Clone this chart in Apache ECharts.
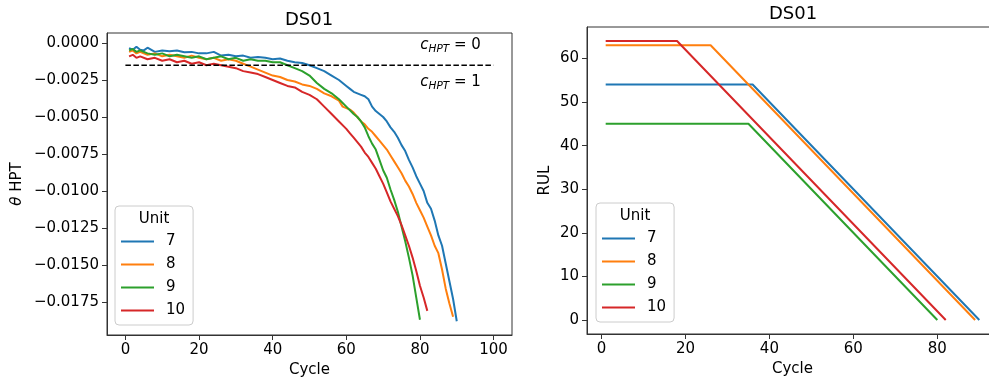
<!DOCTYPE html>
<html><head><meta charset="utf-8">
<script src="https://cdn.jsdelivr.net/npm/echarts@6/dist/echarts.min.js"></script>
<style>html,body{margin:0;padding:0;background:#fff}#c{width:989px;height:377px}</style>
</head><body><div id="c"></div>
<script>
const units = ['7', '8', '9', '10'];
const colors = ['#1f77b4', '#ff7f0e', '#2ca02c', '#d62728'];

// theta HPT per cycle (left panel)
const theta7 = [[1,-0.00035],[2,-0.00045],[3,-0.00025],[4,-0.00045],[5,-0.0005],[6,-0.00032],[8,-0.0006],[10,-0.0005],[12,-0.00055],[14,-0.0005],[16,-0.00062],[18,-0.0006],[20,-0.0007],[22,-0.0007],[24,-0.0006],[26,-0.00085],[28,-0.0008],[30,-0.0009],[32,-0.00085],[34,-0.001],[36,-0.00095],[38,-0.001],[40,-0.0011],[42,-0.00105],[44,-0.0012],[46,-0.0013],[48,-0.00135],[50,-0.0015],[52,-0.0017],[54,-0.0019],[56,-0.0022],[58,-0.0025],[60,-0.0029],[61,-0.0031],[62,-0.0033],[63,-0.0034],[64,-0.0035],[65,-0.0036],[66,-0.0038],[67,-0.0043],[68,-0.0046],[69,-0.0048],[70,-0.005],[71,-0.0053],[72,-0.0057],[73,-0.006],[74,-0.0064],[75,-0.0069],[76,-0.0073],[77,-0.0079],[78,-0.0084],[79,-0.009],[80,-0.0095],[81,-0.01],[82,-0.0108],[83,-0.0112],[84,-0.012],[85,-0.013],[86,-0.0137],[87,-0.0149],[88,-0.0161],[89,-0.0173],[90,-0.0188]];
const theta8 = [[1,-0.0006],[2,-0.0005],[3,-0.0007],[4,-0.0006],[6,-0.0008],[8,-0.0007],[10,-0.0009],[12,-0.0008],[14,-0.0009],[16,-0.001],[18,-0.00085],[20,-0.001],[22,-0.0011],[24,-0.001],[26,-0.0012],[28,-0.0011],[30,-0.0012],[32,-0.0014],[34,-0.0016],[36,-0.0018],[38,-0.002],[40,-0.0022],[42,-0.0023],[44,-0.0025],[46,-0.0026],[48,-0.0028],[50,-0.0029],[52,-0.0031],[54,-0.0034],[56,-0.0036],[58,-0.0039],[59,-0.0043],[60,-0.0044],[61,-0.0045],[62,-0.0047],[63,-0.005],[64,-0.0053],[65,-0.0055],[66,-0.0058],[67,-0.006],[68,-0.0063],[69,-0.0066],[70,-0.0069],[71,-0.0072],[72,-0.0076],[73,-0.008],[74,-0.0084],[75,-0.0088],[76,-0.0093],[77,-0.0097],[78,-0.0102],[79,-0.0108],[80,-0.0113],[81,-0.0118],[82,-0.0124],[83,-0.013],[84,-0.0137],[85,-0.0142],[86,-0.0153],[87,-0.0166],[88,-0.0176],[89,-0.0185]];
const theta9 = [[1,-0.0005],[2,-0.0004],[3,-0.0006],[4,-0.0005],[6,-0.0007],[8,-0.0008],[10,-0.0007],[12,-0.0009],[14,-0.0008],[16,-0.0009],[18,-0.001],[20,-0.0009],[22,-0.0011],[24,-0.001],[26,-0.0009],[28,-0.0011],[30,-0.001],[32,-0.0012],[34,-0.0011],[36,-0.0012],[38,-0.0012],[40,-0.0013],[42,-0.0013],[44,-0.0015],[46,-0.0017],[48,-0.0019],[50,-0.0022],[52,-0.0027],[54,-0.0031],[56,-0.0034],[58,-0.0038],[60,-0.0043],[62,-0.0048],[63,-0.005],[64,-0.0053],[65,-0.0057],[66,-0.0063],[67,-0.0068],[68,-0.0072],[69,-0.0079],[70,-0.0086],[71,-0.0091],[72,-0.0099],[73,-0.0106],[74,-0.0114],[75,-0.0124],[76,-0.0134],[77,-0.0145],[78,-0.0157],[79,-0.0172],[80,-0.0187]];
const theta10 = [[1,-0.0009],[2,-0.0008],[3,-0.001],[4,-0.0009],[6,-0.0011],[8,-0.001],[10,-0.0012],[12,-0.0011],[14,-0.0013],[16,-0.0012],[18,-0.0014],[20,-0.0013],[22,-0.0015],[24,-0.0014],[26,-0.0015],[28,-0.0016],[30,-0.0017],[32,-0.0019],[34,-0.002],[36,-0.0021],[38,-0.0023],[40,-0.0025],[42,-0.0027],[44,-0.0029],[46,-0.003],[48,-0.0033],[50,-0.0035],[52,-0.0038],[54,-0.0043],[56,-0.0048],[58,-0.0053],[60,-0.0058],[61,-0.0061],[62,-0.0064],[63,-0.0067],[64,-0.007],[65,-0.0074],[66,-0.0077],[67,-0.0081],[68,-0.0085],[69,-0.009],[70,-0.0095],[71,-0.0101],[72,-0.0107],[73,-0.0112],[74,-0.0117],[75,-0.0123],[76,-0.013],[77,-0.0137],[78,-0.0145],[79,-0.0154],[80,-0.0164],[81,-0.0172],[82,-0.0181]];

// RUL breakpoints (right panel)
const rul7 = [[1,54],[36,54],[90,0]];
const rul8 = [[1,63],[26,63],[89,0]];
const rul9 = [[1,45],[35,45],[80,0]];
const rul10 = [[1,64],[18,64],[82,0]];

const thresholdValue = -0.0015;
const thresholdSpan = [0, 100];

const leftXTicks = [0, 20, 40, 60, 80, 100];
const leftYTicks = [-0.0175, -0.015, -0.0125, -0.01, -0.0075, -0.005, -0.0025, 0];
const rightXTicks = [0, 20, 40, 60, 80];
const rightYTicks = [0, 10, 20, 30, 40, 50, 60];

const FONT = 'DejaVu Sans';
const AX = '#333';
const chart = echarts.init(document.getElementById('c'), null, {renderer: 'canvas'});

function xAxisCfg(gi, min, max, ticks, gap) {
  return {
    type: 'value', gridIndex: gi, min: min, max: max,
    name: 'Cycle', nameLocation: 'middle', nameGap: gap,
    nameTextStyle: {fontFamily: FONT, fontSize: 15, color: '#000'},
    axisLine: {show: true, onZero: false, lineStyle: {color: AX, width: 1}},
    axisTick: {show: true, inside: false, length: 5, customValues: ticks, lineStyle: {color: AX}},
    axisLabel: {customValues: ticks, margin: 8, fontFamily: FONT, fontSize: 15, color: '#000'},
    splitLine: {show: false}
  };
}
function yAxisCfg(gi, min, max, ticks, name, gap, fmt) {
  return {
    type: 'value', gridIndex: gi, min: min, max: max,
    name: name, nameLocation: 'middle', nameGap: gap,
    nameTextStyle: {fontFamily: FONT, fontSize: 15, color: '#000',
      rich: {t: {fontFamily: FONT, fontSize: 15, fontStyle: 'italic'}, r: {fontFamily: FONT, fontSize: 15}}},
    axisLine: {show: true, onZero: false, lineStyle: {color: AX, width: 1}},
    axisTick: {show: true, inside: false, length: 5, customValues: ticks, lineStyle: {color: AX}},
    axisLabel: {customValues: ticks, margin: 8, fontFamily: FONT, fontSize: 15, color: '#000', formatter: fmt},
    splitLine: {show: false}
  };
}

const thetaSets = [theta7, theta8, theta9, theta10];
const rulSets = [rul7, rul8, rul9, rul10];
const series = [];
units.forEach((u, i) => {
  series.push({name: u, type: 'line', xAxisIndex: 0, yAxisIndex: 0, data: thetaSets[i],
    showSymbol: false, symbol: 'none', color: colors[i], lineStyle: {width: 2, color: colors[i]}, z: 2 + i, animation: false});
});
series.push({type: 'line', xAxisIndex: 0, yAxisIndex: 0, name: 'threshold',
  data: [[thresholdSpan[0], thresholdValue], [thresholdSpan[1], thresholdValue]],
  showSymbol: false, symbol: 'none', color: '#000', z: 10, animation: false,
  lineStyle: {width: 1.6, color: '#000', type: [5.5, 2.5]},
  markPoint: {symbol: 'circle', symbolSize: 0, itemStyle: {color: 'rgba(0,0,0,0)'}, animation: false,
    label: {show: true, position: 'inside', color: '#000',
      rich: {i: {fontFamily: FONT, fontSize: 15, fontStyle: 'italic', color: '#000'},
             s: {fontFamily: FONT, fontSize: 10.5, fontStyle: 'italic', color: '#000', padding: [9, 0, 0, 0]},
             n: {fontFamily: FONT, fontSize: 15, color: '#000'}}},
    data: [
      {coord: [88.3, -0.00014], label: {formatter: '{i|c}{s|HPT}{n| = 0}'}},
      {coord: [88.3, -0.00264], label: {formatter: '{i|c}{s|HPT}{n| = 1}'}}
    ]}
});
units.forEach((u, i) => {
  series.push({name: u, type: 'line', xAxisIndex: 1, yAxisIndex: 1, data: rulSets[i],
    showSymbol: false, symbol: 'none', color: colors[i], lineStyle: {width: 2, color: colors[i]}, z: 2 + i, animation: false});
});

function legendCfg(left, top) {
  return {
    data: units, orient: 'vertical', left: left, top: top,
    padding: [27, 8, 6, 6], itemGap: 6, itemWidth: 33, itemHeight: 2, icon: 'rect',
    backgroundColor: 'rgba(255,255,255,0.8)', borderColor: '#cccccc', borderWidth: 1, borderRadius: 4,
    textStyle: {fontFamily: FONT, fontSize: 15, color: '#000', lineHeight: 17, padding: [0, 0, 0, 7]},
    selectedMode: false
  };
}

const option = {
  animation: false,
  backgroundColor: '#fff',
  grid: [
    {left: 107, top: 33, width: 405, height: 302, show: true, borderColor: AX, borderWidth: 1, backgroundColor: 'transparent', outerBoundsMode: 'none', containLabel: false},
    {left: 587, top: 27, width: 411, height: 307, show: true, borderColor: AX, borderWidth: 1, backgroundColor: 'transparent', outerBoundsMode: 'none', containLabel: false}
  ],
  xAxis: [xAxisCfg(0, -5, 105, leftXTicks, 25), xAxisCfg(1, -3.45, 94.45, rightXTicks, 27)],
  yAxis: [
    yAxisCfg(0, -0.01973, 0.000676, leftYTicks, '{t|θ} {r|HPT}', 82,
      v => (v < 0 ? '\u2212' : '') + Math.abs(v).toFixed(4)),
    yAxisCfg(1, -3.2, 67.2, rightYTicks, 'RUL', 34, v => String(v))
  ],
  legend: [legendCfg(115, 206), legendCfg(596, 203)],
  graphic: [
    {type: 'text', x: 309, y: 20, style: {text: 'DS01', font: '18px "DejaVu Sans"', fill: '#000', textAlign: 'center', textVerticalAlign: 'middle'}},
    {type: 'text', x: 793, y: 14, style: {text: 'DS01', font: '18px "DejaVu Sans"', fill: '#000', textAlign: 'center', textVerticalAlign: 'middle'}},
    {type: 'text', x: 154, y: 219, z: 100, style: {text: 'Unit', font: '15px "DejaVu Sans"', fill: '#000', textAlign: 'center', textVerticalAlign: 'middle'}},
    {type: 'text', x: 635, y: 216, z: 100, style: {text: 'Unit', font: '15px "DejaVu Sans"', fill: '#000', textAlign: 'center', textVerticalAlign: 'middle'}}
  ],
  series: series
};
chart.setOption(option);
</script>
</body></html>
